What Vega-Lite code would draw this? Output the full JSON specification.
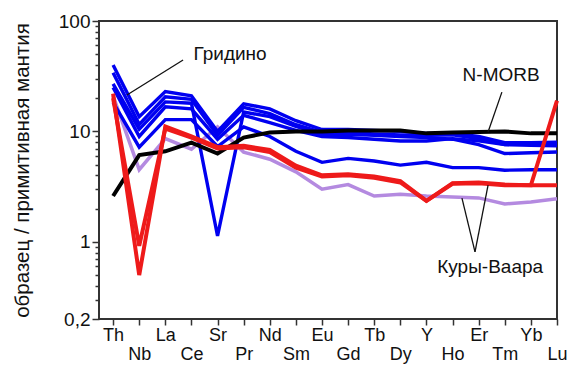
{
  "$schema": "https://vega.github.io/schema/vega-lite/v6.json",
  "width": 458,
  "height": 298,
  "autosize": "none",
  "padding": {"left": 99, "top": 21, "right": 11, "bottom": 55},
  "background": "white",
  "config": {
    "font": "Liberation Sans",
    "view": {"stroke": "#333333", "strokeWidth": 2}
  },
  "data": {
    "values": [
      {"i": 0, "el": "Th", "B1": 40, "B2": 34, "B3": 27, "B4": 25, "B5": 18.3, "R1": 22, "R2": 20, "P": 21, "M": 2.6},
      {"i": 1, "el": "Nb", "B1": 13.6, "B2": 11.6, "B3": 10.5, "B4": 9.0, "B5": 7.2, "R1": 0.5, "R2": 0.92, "P": 4.5, "M": 6.1},
      {"i": 2, "el": "La", "B1": 23, "B2": 20.6, "B3": 18.5, "B4": 16.7, "B5": 12.8, "R1": 11.1, "R2": 10.6, "P": 8.6, "M": 6.6},
      {"i": 3, "el": "Ce", "B1": 21, "B2": 19.5, "B3": 18, "B4": 16, "B5": 12.8, "R1": 9.0, "R2": 8.8, "P": 6.9, "M": 7.9},
      {"i": 4, "el": "Sr", "B1": 10, "B2": 9.2, "B3": 1.13, "B4": 8.5, "B5": 7.3, "R1": 7.2, "R2": 7.0, "P": 11, "M": 6.3},
      {"i": 5, "el": "Pr", "B1": 17.8, "B2": 16.5, "B3": 15, "B4": 14, "B5": 11, "R1": 7.4, "R2": 7.2, "P": 6.5, "M": 8.8},
      {"i": 6, "el": "Nd", "B1": 16, "B2": 14.5, "B3": 13.6, "B4": 12, "B5": 9.0, "R1": 6.8, "R2": 6.5, "P": 5.6, "M": 9.8},
      {"i": 7, "el": "Sm", "B1": 12.5, "B2": 11.5, "B3": 11.1, "B4": 10.2, "B5": 6.6, "R1": 4.9, "R2": 4.7, "P": 4.3, "M": 10},
      {"i": 8, "el": "Eu", "B1": 10.4, "B2": 9.8, "B3": 9.4, "B4": 9.0, "B5": 5.25, "R1": 4.0, "R2": 3.9, "P": 3.0, "M": 10},
      {"i": 9, "el": "Gd", "B1": 10.4, "B2": 9.8, "B3": 9.4, "B4": 8.8, "B5": 5.7, "R1": 4.1, "R2": 4.0, "P": 3.3, "M": 10.2},
      {"i": 10, "el": "Tb", "B1": 10.2, "B2": 9.5, "B3": 9.2, "B4": 8.5, "B5": 5.4, "R1": 3.9, "R2": 3.8, "P": 2.6, "M": 10.2},
      {"i": 11, "el": "Dy", "B1": 10, "B2": 9.3, "B3": 9.0, "B4": 8.2, "B5": 4.95, "R1": 3.55, "R2": 3.45, "P": 2.7, "M": 10.2},
      {"i": 12, "el": "Y", "B1": 9.6, "B2": 9.2, "B3": 8.8, "B4": 8.2, "B5": 5.25, "R1": 2.35, "R2": 2.35, "P": 2.6, "M": 9.6},
      {"i": 13, "el": "Ho", "B1": 9.6, "B2": 9.3, "B3": 8.5, "B4": 8.6, "B5": 4.7, "R1": 3.4, "R2": 3.35, "P": 2.55, "M": 9.8},
      {"i": 14, "el": "Er", "B1": 9.0, "B2": 8.6, "B3": 7.6, "B4": 8.2, "B5": 4.7, "R1": 3.45, "R2": 3.4, "P": 2.5, "M": 9.9},
      {"i": 15, "el": "Tm", "B1": 7.9, "B2": 7.6, "B3": 6.3, "B4": 7.6, "B5": 4.45, "R1": 3.3, "R2": 3.25, "P": 2.2, "M": 10},
      {"i": 16, "el": "Yb", "B1": 7.9, "B2": 7.5, "B3": 6.4, "B4": 7.6, "B5": 4.5, "R1": 3.25, "R2": 3.25, "P": 2.3, "M": 9.6},
      {"i": 17, "el": "Lu", "B1": 8.0, "B2": 7.4, "B3": 6.5, "B4": 7.8, "B5": 4.5, "R1": 19, "R2": 3.25, "P": 2.45, "M": 9.6}
    ]
  },
  "encoding": {
    "x": {
      "field": "i",
      "type": "quantitative",
      "scale": {"domain": [-0.54, 17], "nice": false, "zero": false},
      "axis": {
        "title": null,
        "values": [0, 1, 2, 3, 4, 5, 6, 7, 8, 9, 10, 11, 12, 13, 14, 15, 16, 17],
        "labelExpr": "datum.value % 2 == 1 ? ['', ['Th','Nb','La','Ce','Sr','Pr','Nd','Sm','Eu','Gd','Tb','Dy','Y','Ho','Er','Tm','Yb','Lu'][datum.value]] : ['Th','Nb','La','Ce','Sr','Pr','Nd','Sm','Eu','Gd','Tb','Dy','Y','Ho','Er','Tm','Yb','Lu'][datum.value]",
        "grid": false,
        "domain": false,
        "tickSize": 6,
        "tickColor": "#333333",
        "tickWidth": 1.5,
        "labelFontSize": 18,
        "labelColor": "#111111",
        "labelPadding": 1,
        "labelLineHeight": 19,
        "labelBaseline": "top",
        "labelFlush": false,
        "labelOverlap": false
      }
    },
    "y": {
      "field": "v",
      "type": "quantitative",
      "scale": {"type": "log", "domain": [0.2, 100], "nice": false},
      "axis": {
        "title": "образец / примитивная мантия",
        "titleFontSize": 20.5,
        "titleFontWeight": "normal",
        "titleColor": "#111111",
        "titlePadding": 26,
        "values": [0.2, 0.3, 0.4, 0.5, 0.6, 0.7, 0.8, 0.9, 1, 2, 3, 4, 5, 6, 7, 8, 9, 10, 20, 30, 40, 50, 60, 70, 80, 90, 100],
        "labelExpr": "datum.value == 0.2 ? '0,2' : datum.value == 1 ? '1' : datum.value == 10 ? '10' : datum.value == 100 ? '100' : ''",
        "grid": false,
        "domain": false,
        "tickColor": "#333333",
        "tickWidth": 1.5,
        "tickSize": {"condition": {"test": "datum.value == 0.2 || datum.value == 1 || datum.value == 10 || datum.value == 100", "value": 7}, "value": 4},
        "labelFontSize": 19,
        "labelColor": "#111111",
        "labelPadding": 2,
        "labelOverlap": false
      }
    }
  },
  "layer": [
    {
      "transform": [{"fold": ["P"], "as": ["s", "v"]}],
      "mark": {"type": "line", "color": "#b48ae0", "strokeWidth": 3.5},
      "encoding": {"detail": {"field": "s"}, "order": {"field": "i"}}
    },
    {
      "transform": [{"fold": ["B1", "B2", "B3", "B4", "B5"], "as": ["s", "v"]}],
      "mark": {"type": "line", "color": "#0000f0", "strokeWidth": 3.4},
      "encoding": {"detail": {"field": "s"}, "order": {"field": "i"}}
    },
    {
      "transform": [{"fold": ["M"], "as": ["s", "v"]}],
      "mark": {"type": "line", "color": "#000000", "strokeWidth": 4},
      "encoding": {"detail": {"field": "s"}, "order": {"field": "i"}}
    },
    {
      "transform": [{"fold": ["R1", "R2"], "as": ["s", "v"]}],
      "mark": {"type": "line", "color": "#ee1a1a", "strokeWidth": 4},
      "encoding": {"detail": {"field": "s"}, "order": {"field": "i"}}
    },
    {
      "data": {
        "values": [
          {"i": 2.68, "v": 44.4, "i2": 0.53, "v2": 21.4},
          {"i": 14.89, "v": 22.7, "i2": 14.36, "v2": 9.88},
          {"i": 13.86, "v": 0.81, "i2": 13.36, "v2": 2.49},
          {"i": 13.86, "v": 0.81, "i2": 14.36, "v2": 3.27}
        ]
      },
      "mark": {"type": "rule", "color": "#111111", "strokeWidth": 1.3},
      "encoding": {"x2": {"field": "i2"}, "y2": {"field": "v2"}}
    },
    {
      "data": {
        "values": [
          {"i": 4.48, "v": 50.2, "t": "Гридино"},
          {"i": 14.86, "v": 32.4, "t": "N-MORB"},
          {"i": 14.44, "v": 0.59, "t": "Куры-Ваара"}
        ]
      },
      "mark": {"type": "text", "fontSize": 19, "color": "#111111", "align": "center", "baseline": "middle"},
      "encoding": {"text": {"field": "t"}}
    }
  ]
}
